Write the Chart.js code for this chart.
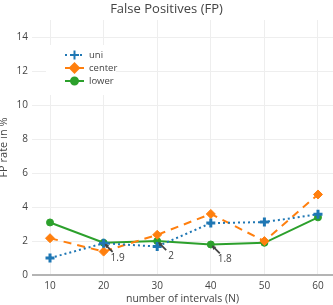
<!DOCTYPE html>
<html>
<head>
<meta charset="utf-8">
<title>False Positives (FP)</title>
<script src="https://cdn.jsdelivr.net/npm/chart.js@4.4.1/dist/chart.umd.min.js"></script>
<style>
  html, body { margin: 0; padding: 0; background: #fff; }
  #wrap { width: 333px; height: 305px; position: relative; }
</style>
</head>
<body>
<div id="wrap"><canvas id="fpChart"></canvas></div>
<script>
// Data
const intervals = [10, 20, 30, 40, 50, 60];
const uniRate = [1.0, 1.87, 1.68, 3.06, 3.12, 3.58];
const centerRate = [2.17, 1.38, 2.37, 3.6, 2.0, 4.75];
const lowerRate = [3.1, 1.9, 2.0, 1.8, 1.9, 3.4];
const xTicks = [10, 20, 30, 40, 50, 60];
const yTicks = [0, 2, 4, 6, 8, 10, 12, 14];
const noteX = [20, 30, 40];
const noteY = [1.9, 2, 1.8];
const noteText = ["1.9", "2", "1.8"];

const FONT = '"Open Sans", "DejaVu Sans", sans-serif';
const TEXT = "#444";

const series = [
  { label: "uni", data: uniRate, color: "#1f77b4", dash: [2, 3], style: "cross", radius: 4.5 },
  { label: "center", data: centerRate, color: "#ff7f0e", dash: [8, 6], style: "rectRot", radius: 4.5 },
  { label: "lower", data: lowerRate, color: "#2ca02c", dash: [], style: "circle", radius: 3.5 },
];

function toPoints(values) {
  return intervals.map((x, i) => ({ x: x, y: values[i] }));
}

// legend in the top-left of the plot, drawn over everything like plotly does
const insideLegend = {
  id: "insideLegend",
  afterDraw(chart) {
    const ctx = chart.ctx;
    ctx.save();
    ctx.fillStyle = "#fff";
    ctx.fillRect(46, 45, 70, 50);
    series.forEach((s, i) => {
      const y = 55 + i * 13;
      ctx.strokeStyle = s.color;
      ctx.lineWidth = 2;
      ctx.setLineDash(s.dash);
      ctx.beginPath();
      ctx.moveTo(65, y);
      ctx.lineTo(84, y);
      ctx.stroke();
      ctx.setLineDash([]);
      ctx.fillStyle = s.color;
      ctx.strokeStyle = s.color;
      Chart.helpers.drawPoint(ctx, {
        pointStyle: s.style,
        radius: s.radius,
        rotation: 0,
        borderWidth: s.style === "cross" ? 3 : 1,
      }, 74.5, y);
      ctx.fillStyle = TEXT;
      ctx.font = "9.5px " + FONT;
      ctx.textAlign = "left";
      ctx.textBaseline = "middle";
      ctx.fillText(s.label, 89, y);
    });
    ctx.restore();
  },
};

// arrow annotations on the "lower" line
const arrowNotes = {
  id: "arrowNotes",
  afterDatasetsDraw(chart) {
    const { ctx, scales } = chart;
    ctx.save();
    ctx.strokeStyle = TEXT;
    ctx.fillStyle = TEXT;
    ctx.lineWidth = 1.8;
    noteX.forEach((vx, i) => {
      const px = scales.x.getPixelForValue(vx);
      const py = scales.y.getPixelForValue(noteY[i]);
      ctx.beginPath();
      ctx.moveTo(px + 2, py + 2);
      ctx.lineTo(px + 9, py + 9);
      ctx.stroke();
      ctx.beginPath();
      ctx.moveTo(px + 1, py + 1);
      ctx.lineTo(px + 5.5, py + 2.5);
      ctx.lineTo(px + 2.5, py + 5.5);
      ctx.closePath();
      ctx.fill();
      ctx.font = "10px " + FONT;
      ctx.textAlign = "center";
      ctx.textBaseline = "middle";
      ctx.fillText(noteText[i], px + 14, py + 15);
    });
    ctx.restore();
  },
};

new Chart(document.getElementById("fpChart"), {
  type: "line",
  data: {
    datasets: series.map((s) => ({
      label: s.label,
      data: toPoints(s.data),
      borderColor: s.color,
      backgroundColor: s.color,
      borderWidth: 2,
      borderDash: s.dash,
      pointStyle: s.style,
      pointRadius: s.radius,
      pointBorderWidth: s.style === "cross" ? 3 : 1,
      pointHoverRadius: s.radius,
      tension: 0,
      clip: false,
    })),
  },
  options: {
    responsive: true,
    maintainAspectRatio: false,
    animation: false,
    layout: { autoPadding: false, padding: 0 },
    plugins: {
      legend: { display: false },
      tooltip: { enabled: false },
      title: {
        display: true,
        text: "False Positives (FP)",
        color: TEXT,
        font: { family: FONT, size: 13, weight: "normal" },
        padding: { top: 1, bottom: 3.4 },
      },
    },
    scales: {
      x: {
        type: "linear",
        min: 6.64,
        max: 62.8,
        afterBuildTicks: (scale) => { scale.ticks = xTicks.map((v) => ({ value: v })); },
        afterFit: (scale) => {
          scale.height = 30;
          scale.paddingLeft = 0;
          scale.paddingRight = 0;
        },
        border: { display: false },
        grid: { color: "#eee", lineWidth: 1, drawTicks: false },
        ticks: { color: TEXT, font: { family: FONT, size: 10 }, padding: 5, maxRotation: 0 },
        title: {
          display: true,
          text: "number of intervals (N)",
          color: TEXT,
          font: { family: FONT, size: 10.5 },
          padding: { top: 0, bottom: 0 },
        },
      },
      y: {
        type: "linear",
        min: 0,
        max: 15.04,
        afterBuildTicks: (scale) => { scale.ticks = yTicks.map((v) => ({ value: v })); },
        afterFit: (scale) => {
          scale.width = 32;
          scale.paddingTop = 0;
          scale.paddingBottom = 0;
        },
        border: { display: false },
        grid: {
          color: (c) => (c.tick && c.tick.value === 0 ? "#b4b4b4" : "#eee"),
          lineWidth: (c) => (c.tick && c.tick.value === 0 ? 2 : 1),
          drawTicks: false,
        },
        ticks: { color: TEXT, font: { family: FONT, size: 10 }, padding: 4 },
        title: {
          display: true,
          text: "FP rate in %",
          color: TEXT,
          font: { family: FONT, size: 11 },
          padding: { top: -3, bottom: 0 },
        },
      },
    },
  },
  plugins: [arrowNotes, insideLegend],
});
</script>
</body>
</html>
